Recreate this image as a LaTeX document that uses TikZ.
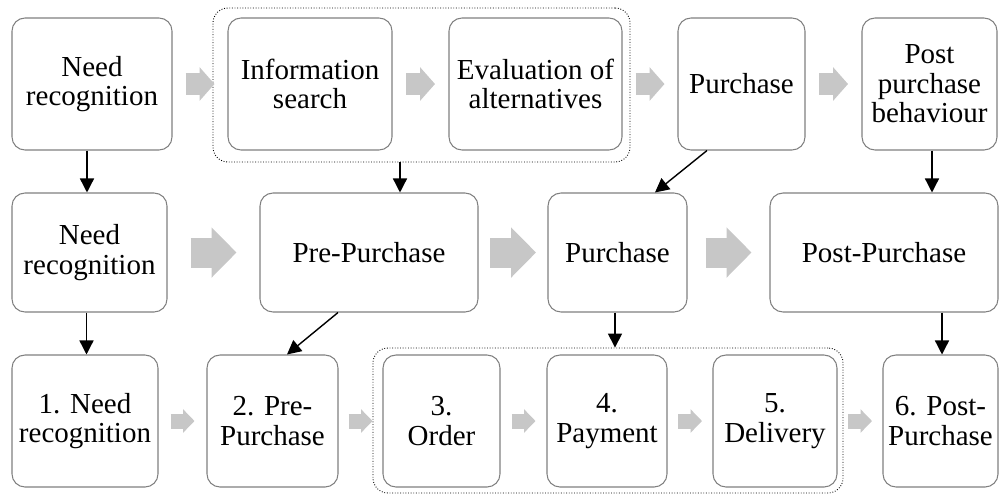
\documentclass[tikz,border=0pt]{standalone}
\usepackage{fontspec}
\setmainfont{Liberation Serif}
\usetikzlibrary{positioning,arrows.meta,calc}

\begin{document}
\begin{tikzpicture}[x=0.2mm, y=-0.2mm,
    box/.style={rectangle, draw=black!50, line width=0.6pt, rounded corners=2.6mm, fill=white, align=center, inner sep=0pt, font=\fontsize{16.5}{16.8}\selectfont},
    group/.style={rectangle, draw, densely dotted, line width=0.5pt, rounded corners=3mm, inner sep=0pt},
    link/.style={-{Triangle[width=8pt,length=8pt]}, line width=0.8pt},
    flow/.style={draw=black!22, line cap=butt},
    flowA/.style={flow, line width=4.3mm, -{Triangle[width=6.6mm,length=3mm]}},
    flowB/.style={flow, line width=6mm, -{Triangle[width=9.8mm,length=5mm]}},
    flowC/.style={flow, line width=3mm, -{Triangle[width=4.6mm,length=2.3mm]}}]

    \useasboundingbox (0,0) rectangle (1000,498);

    % Top row: five stages
    \node[group, minimum width=83.4mm, minimum height=30.8mm] (search1) at (421.5,85) {};
    \node[box, minimum width=32mm, minimum height=26.4mm] (need1) at (92,84) {Need\\recognition};
    \node[box, minimum width=32.8mm, minimum height=26.4mm] (info1) at (310,84) {Information\\search};
    \node[box, minimum width=34.6mm, minimum height=26.4mm] (eval1) at (535.5,84) {Evaluation of\\alternatives};
    \node[box, minimum width=25.4mm, minimum height=26.4mm] (purch1) at (741.5,84) {Purchase};
    \node[box, minimum width=27mm, minimum height=26.4mm] (post1) at (929.5,84) {Post\\purchase\\behaviour};

    % Middle row: four phases
    \node[box, minimum width=31mm, minimum height=23.8mm] (need2) at (89.5,252.5) {Need\\recognition};
    \node[box, minimum width=43.6mm, minimum height=23.8mm] (pre2) at (369,252.5) {Pre-Purchase};
    \node[box, minimum width=27.8mm, minimum height=23.8mm] (purch2) at (617.5,252.5) {Purchase};
    \node[box, minimum width=45.6mm, minimum height=23.8mm] (post2) at (884,252.5) {Post-Purchase};

    % Bottom row: six numbered steps
    \node[group, minimum width=94mm, minimum height=29mm] (buy3) at (608,420.5) {};
    \node[box, minimum width=29.2mm, minimum height=26.4mm] (need3) at (85,421) {1. Need\\recognition};
    \node[box, minimum width=26.2mm, minimum height=26.4mm] (pre3) at (272.5,421) {2. Pre-\\Purchase};
    \node[box, minimum width=23.4mm, minimum height=26.4mm] (order3) at (441.5,421) {3.\\Order};
    \node[box, minimum width=24mm, minimum height=26.4mm] (pay3) at (607,421) {4.\\Payment};
    \node[box, minimum width=24.8mm, minimum height=26.4mm] (deliv3) at (775,421) {5.\\Delivery};
    \node[box, minimum width=23mm, minimum height=26.4mm] (post3) at (940.5,421) {6. Post-\\Purchase};

    % Grey flow arrows
    \draw[flowA] ($(need1.east)!0.5!(info1.west)+(-14.5,0)$) -- +(29,0);
    \draw[flowA] ($(info1.east)!0.5!(eval1.west)+(-14.5,0)$) -- +(29,0);
    \draw[flowA] ($(eval1.east)!0.5!(purch1.west)+(-14.5,0)$) -- +(29,0);
    \draw[flowA] ($(purch1.east)!0.5!(post1.west)+(-14.5,0)$) -- +(29,0);
    \draw[flowB] ($(need2.east)!0.5!(pre2.west)+(-23,0)$) -- +(46,0);
    \draw[flowB] ($(pre2.east)!0.5!(purch2.west)+(-23,0)$) -- +(46,0);
    \draw[flowB] ($(purch2.east)!0.5!(post2.west)+(-23,0)$) -- +(46,0);
    \draw[flowC] ($(need3.east)!0.5!(pre3.west)+(-12,0)$) -- +(24,0);
    \draw[flowC] ($(pre3.east)!0.5!(order3.west)+(-12,0)$) -- +(24,0);
    \draw[flowC] ($(order3.east)!0.5!(pay3.west)+(-12,0)$) -- +(24,0);
    \draw[flowC] ($(pay3.east)!0.5!(deliv3.west)+(-12,0)$) -- +(24,0);
    \draw[flowC] ($(deliv3.east)!0.5!(post3.west)+(-12,0)$) -- +(24,0);

    % Top row to middle row
    \draw[link] ([xshift=-1mm]need1.south) -- ([xshift=-1mm]need1.south |- need2.north);
    \draw[link] ([xshift=-4.3mm]search1.south) -- ([xshift=-4.3mm]search1.south |- pre2.north);
    \draw[link] ([xshift=-6.9mm]purch1.south) -- ([xshift=7.5mm]purch2.north);
    \draw[link] ([xshift=0.5mm]post1.south) -- ([xshift=0.5mm]post1.south |- post2.north);

    % Middle row to bottom row
    \draw[link] ([xshift=-0.6mm]need2.south) -- ([xshift=-0.6mm]need2.south |- need3.north);
    \draw[link] ([xshift=-6.2mm]pre2.south) -- ([xshift=2.9mm]pre3.north);
    \draw[link] ([xshift=-0.5mm]purch2.south) -- ([xshift=-0.5mm]purch2.south |- buy3.north);
    \draw[link] ([xshift=0.3mm]post3.north |- post2.south) -- ([xshift=0.3mm]post3.north);
\end{tikzpicture}
\end{document}
